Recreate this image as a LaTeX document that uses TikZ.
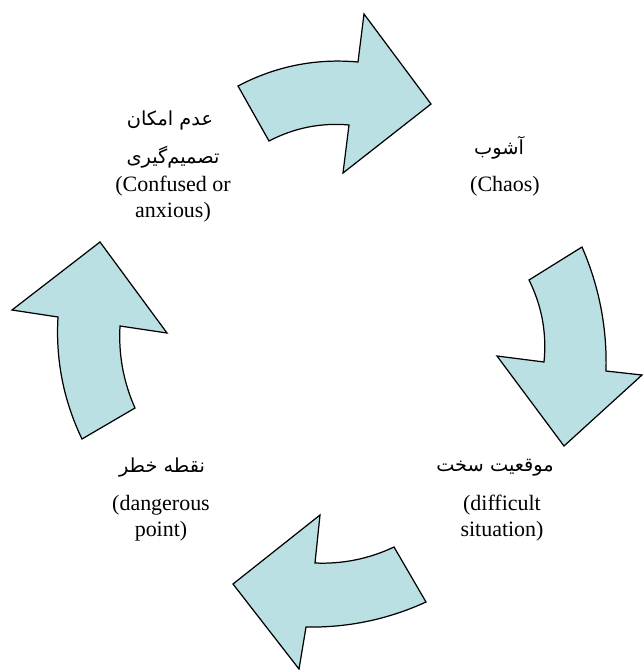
\documentclass[tikz,border=0pt]{standalone}
\usepackage{fontspec}
\setmainfont{Liberation Serif}
\newfontfamily\farsifont[Script=Arabic]{DejaVu Sans}
\TeXXeTstate=1
\usetikzlibrary{positioning}
\definecolor{cycfill}{RGB}{186,224,228}
\tikzset{cyc/.style={draw, fill=cycfill, line width=0.7pt, line join=miter}}
\tikzset{fa/.style={font=\farsifont\fontsize{11}{13}\selectfont, inner sep=0pt}}
\tikzset{en/.style={font=\fontsize{12.5}{14.7}\selectfont, align=center, inner sep=0pt}}

\begin{document}
\begin{tikzpicture}[x=0.02cm, y=-0.02cm]

    \useasboundingbox (0,0) rectangle (643,670);

    % arrows of the cycle
    \draw[cyc] (238,86) .. controls (275.6,66.2) and (315.6,58.2) .. (358,62) -- (364,14)
        -- (431,104) -- (343,173) -- (349,125)
        .. controls (320.7,122.5) and (294.1,127.9) .. (269,141) -- cycle;
    \draw[cyc] (582,247) -- (529,280) .. controls (541.9,305.9) and (546.9,333.3) .. (544,362)
        -- (497,356) -- (564,446) -- (642,375) -- (606,371)
        .. controls (607.2,327.9) and (599.2,286.5) .. (582,247) -- cycle;
    \draw[cyc] (394,547) -- (426,602) .. controls (387.9,619.4) and (347.9,627.8) .. (306,627)
        -- (299,669) -- (233,584) -- (320,515) -- (315,563)
        .. controls (342.6,564.2) and (369,558.8) .. (394,547) -- cycle;
    \draw[cyc] (100,242) -- (12,310) -- (58,317) .. controls (55.5,359.7) and (63.5,400.4) .. (82,439)
        -- (135,408) .. controls (123.4,381.9) and (118.4,354.5) .. (120,326)
        -- (167,333) -- cycle;

    % labels
    \node[fa] (confusedfa) at (170,120) {\beginR عدم امکان\endR};
    \node[fa] (decisionfa) at (173,157) {\beginR تصمیم‌گیری\endR};
    \node[en] (confused) at (173,199) {(Confused or\\anxious)};

    \node[fa] (chaosfa) at (499,148) {\beginR آشوب\endR};
    \node[en] (chaos) at (505,186) {(Chaos)};

    \node[fa] (difficultfa) at (495,468) {\beginR موقعیت سخت\endR};
    \node[en] (difficult) at (502,518) {(difficult\\situation)};

    \node[fa] (dangerfa) at (162,468) {\beginR نقطه خطر\endR};
    \node[en] (danger) at (161,518) {(dangerous\\point)};

\end{tikzpicture}
\end{document}
